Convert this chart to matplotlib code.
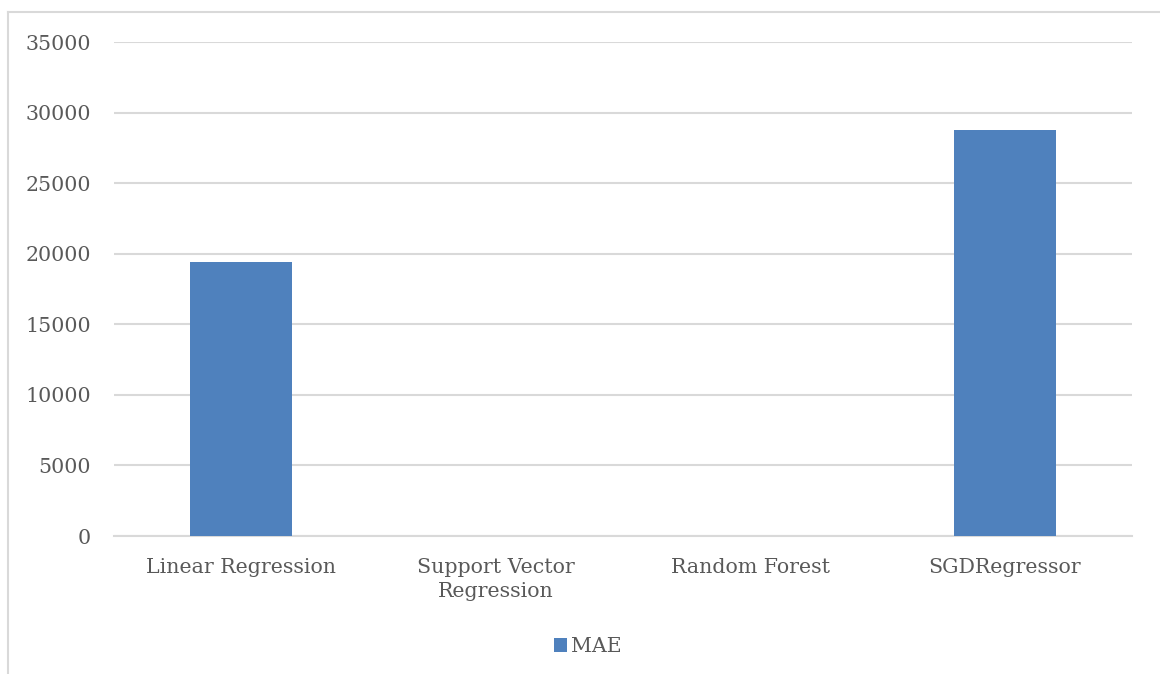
import matplotlib.pyplot as plt
from matplotlib.lines import Line2D

models = ['Linear Regression', 'Support Vector\nRegression', 'Random Forest', 'SGDRegressor']
mae = [19400, 0, 0, 28750]
yticks = [0, 5000, 10000, 15000, 20000, 25000, 30000, 35000]

bar_color = '#4F81BD'
grid_color = '#D9D9D9'
text_color = '#595959'

plt.rcParams['font.family'] = ['DejaVu Serif']

fig = plt.figure(figsize=(11.6, 6.74), dpi=100)
ax = fig.add_axes([114 / 1160, 1 - 536 / 674, (1132 - 114) / 1160, (536 - 42) / 674])

x = range(len(models))
ax.bar(x, mae, width=0.4, color=bar_color, label='MAE', zorder=3)

ax.set_xlim(-0.5, len(models) - 0.5)
ax.set_ylim(0, 35000)
ax.set_yticks(yticks)
ax.set_yticklabels([str(v) for v in yticks])
ax.set_xticks(list(x))
ax.set_xticklabels(models, linespacing=1.3)

ax.grid(axis='y', color=grid_color, linewidth=1.5, zorder=0)
for side in ['top', 'right', 'left']:
    ax.spines[side].set_visible(False)
ax.spines['bottom'].set_color(grid_color)
ax.spines['bottom'].set_linewidth(1.5)
ax.tick_params(axis='both', length=0, colors=text_color, labelsize=14.8)
ax.tick_params(axis='y', pad=16.5)
ax.tick_params(axis='x', pad=16)

fig.legend(loc='center', bbox_to_anchor=(588 / 1160, 1 - 647 / 674), frameon=False,
           fontsize=14.8, labelcolor=text_color, handlelength=0.65, handleheight=0.65,
           handletextpad=0.2)

# chart area border
fig.add_artist(Line2D([8 / 1160, 8 / 1160], [0, 1 - 12 / 674], transform=fig.transFigure,
                      color=grid_color, linewidth=1.5))
fig.add_artist(Line2D([8 / 1160, 1], [1 - 12 / 674, 1 - 12 / 674], transform=fig.transFigure,
                      color=grid_color, linewidth=1.5))

fig.savefig('out.png', dpi=100)
